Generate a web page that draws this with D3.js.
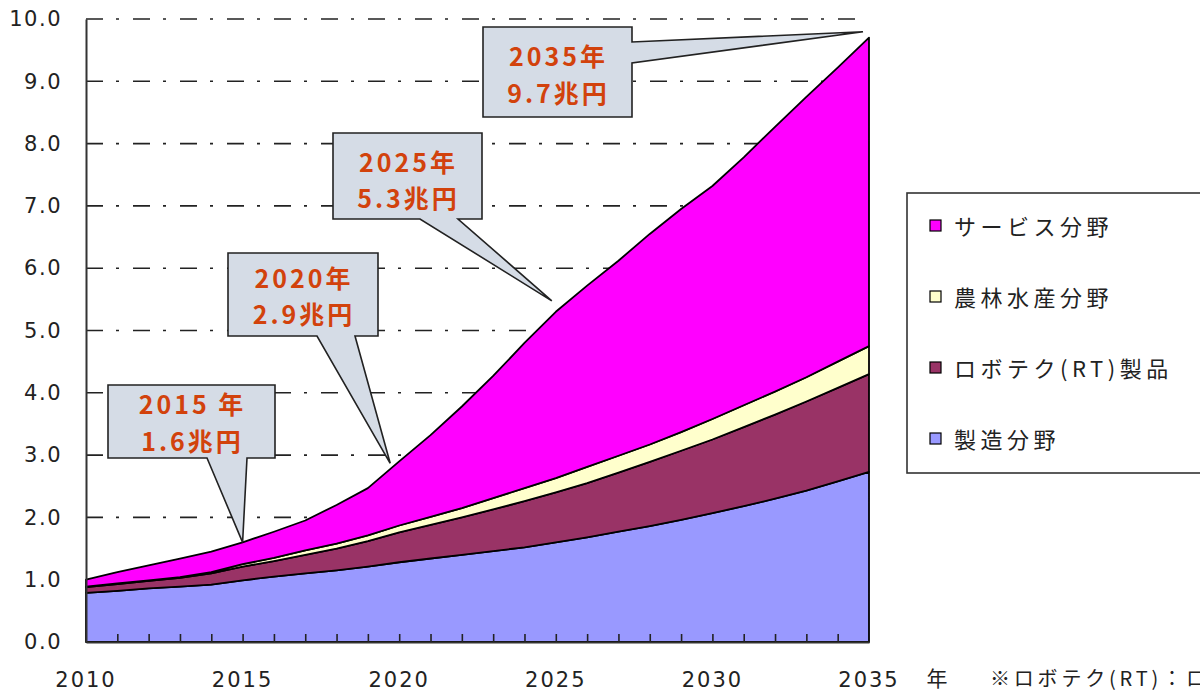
<!DOCTYPE html>
<html lang="ja">
<head>
<meta charset="utf-8">
<title>ロボット産業の市場規模予測</title>
<script src="https://cdn.jsdelivr.net/npm/d3@7"></script>
<style>
  html, body { margin: 0; padding: 0; background: #fff; overflow: hidden; }
  svg { display: block; }
</style>
</head>
<body>
<svg id="chart" width="1200" height="692"></svg>
<script>
// Market size forecast (兆円) by sector, 2010–2035
const years = d3.range(2010, 2036);
const manufacturing = [0.79, 0.82, 0.86, 0.89, 0.92, 0.99, 1.05, 1.10, 1.15, 1.21, 1.28, 1.34, 1.40,
                       1.46, 1.52, 1.60, 1.68, 1.77, 1.86, 1.96, 2.07, 2.18, 2.30, 2.43, 2.58, 2.73];
const rtProducts    = [0.09, 0.11, 0.12, 0.14, 0.18, 0.22, 0.25, 0.30, 0.35, 0.41, 0.48, 0.54, 0.60,
                       0.67, 0.74, 0.80, 0.87, 0.95, 1.03, 1.11, 1.18, 1.27, 1.35, 1.43, 1.50, 1.57];
const agriculture   = [0.01, 0.01, 0.01, 0.01, 0.02, 0.04, 0.05, 0.07, 0.08, 0.09, 0.11, 0.13, 0.15,
                       0.18, 0.21, 0.23, 0.26, 0.27, 0.28, 0.30, 0.33, 0.35, 0.37, 0.39, 0.42, 0.45];
const services      = [0.11, 0.18, 0.24, 0.30, 0.33, 0.35, 0.42, 0.48, 0.62, 0.76, 1.03, 1.31, 1.63,
                       1.96, 2.33, 2.67, 2.91, 3.13, 3.38, 3.58, 3.74, 3.98, 4.25, 4.50, 4.72, 4.95];

const seriesNames  = ["製造分野", "ロボテク(RT)製品", "農林水産分野", "サービス分野"];
const seriesColors = ["#9999FF", "#993366", "#FFFFCC", "#FF00FF"];
const yTicks = d3.range(0, 11);
const xLabelYears = [2010, 2015, 2020, 2025, 2030, 2035];

// Callouts: year and the two caption lines
const calloutYears  = [2015, 2020, 2025, 2035];
const calloutTitles = ["2015 年", "2020年", "2025年", "2035年"];
const calloutValues = ["1.6兆円", "2.9兆円", "5.3兆円", "9.7兆円"];

const rows = years.map((yr, i) => ({
  year: yr,
  [seriesNames[0]]: manufacturing[i],
  [seriesNames[1]]: rtProducts[i],
  [seriesNames[2]]: agriculture[i],
  [seriesNames[3]]: services[i]
}));

const svg = d3.select("#chart");
const plotLeft = 86, plotRight = 869, plotTop = 19, plotBottom = 642;

const x = d3.scaleLinear().domain([2010, 2035]).range([plotLeft, plotRight]);
const y = d3.scaleLinear().domain([0, 10]).range([plotBottom, plotTop]);

const numFont = "'DejaVu Sans', 'Liberation Sans', sans-serif";
const jpFont = "'Noto Sans CJK JP', 'Noto Sans', sans-serif";

// Horizontal grid (dash-dot)
svg.append("g")
  .selectAll("line")
  .data(yTicks.filter(d => d > 0))
  .join("line")
  .attr("x1", plotLeft).attr("x2", 866)
  .attr("y1", d => y(d)).attr("y2", d => y(d))
  .attr("stroke", "#222")
  .attr("stroke-width", 1.6)
  .attr("stroke-dasharray", "17,13,3,14");

// Stacked areas
const stack = d3.stack().keys(seriesNames);
const layers = stack(rows);
const area = d3.area()
  .x(d => x(d.data.year))
  .y0(d => y(d[0]))
  .y1(d => y(d[1]));

svg.append("g")
  .selectAll("path")
  .data(layers)
  .join("path")
  .attr("d", area)
  .attr("fill", (d, i) => seriesColors[i])
  .attr("stroke", "#000")
  .attr("stroke-width", 1.8)
  .attr("stroke-linejoin", "round");

// Axes
const yAxis = d3.axisLeft(y).tickValues(yTicks).tickSize(0).tickPadding(24)
  .tickFormat(d3.format(".1f"));
const gy = svg.append("g").attr("transform", `translate(${plotLeft},0)`).call(yAxis);
gy.select(".domain").attr("stroke", "#333").attr("stroke-width", 2);
gy.selectAll("text")
  .attr("font-family", numFont).attr("font-size", 21)
  .attr("letter-spacing", 1.5).attr("fill", "#222");

const xAxis = d3.axisBottom(x).tickValues(years.slice(1, -1)).tickSizeInner(-8).tickSizeOuter(0)
  .tickFormat("");
const gx = svg.append("g").attr("transform", `translate(0,${plotBottom})`).call(xAxis);
gx.select(".domain").attr("stroke", "#333").attr("stroke-width", 2);
gx.selectAll(".tick line").attr("stroke", "#222").attr("stroke-width", 1.6);

svg.append("g")
  .selectAll("text")
  .data(xLabelYears)
  .join("text")
  .attr("x", d => x(d))
  .attr("y", 687)
  .attr("text-anchor", "middle")
  .attr("font-family", numFont).attr("font-size", 21)
  .attr("letter-spacing", 2).attr("fill", "#222")
  .text(d => d);

svg.append("text")
  .attr("x", 937).attr("y", 686).attr("text-anchor", "middle")
  .attr("font-family", jpFont).attr("font-size", 21).attr("fill", "#222")
  .text("年");

svg.append("text")
  .attr("x", 990).attr("y", 686)
  .attr("font-family", jpFont).attr("font-size", 20).attr("letter-spacing", 3.8).attr("fill", "#222")
  .text("※ロボテク(RT)：ロボットテクノロジー");

// Callout balloons
const totals = years.map((yr, i) => manufacturing[i] + rtProducts[i] + agriculture[i] + services[i]);
const boxes = [
  { x0: 108, y0: 385, x1: 275, y1: 458, side: "bottom", b0: 207, b1: 247, dx: 0,  dy: 0,   l1: 414, l2: 451 },
  { x0: 228, y0: 253, x1: 378, y1: 336, side: "bottom", b0: 317, b1: 355, dx: -9, dy: 2,   l1: 288, l2: 324 },
  { x0: 333, y0: 133, x1: 482, y1: 219, side: "bottom", b0: 420, b1: 458, dx: -4, dy: -11, l1: 172, l2: 208 },
  { x0: 483, y0: 27,  x1: 632, y1: 117, side: "right",  b0: 42,  b1: 63,  dx: -6, dy: -6,  l1: 66,  l2: 103 }
];

const callouts = svg.append("g");
calloutYears.forEach((yr, i) => {
  const b = boxes[i];
  const tx = x(yr) + b.dx;
  const ty = y(totals[years.indexOf(yr)]) + b.dy;
  let p;
  if (b.side === "bottom") {
    p = `M${b.x0},${b.y0}H${b.x1}V${b.y1}H${b.b1}L${tx},${ty}L${b.b0},${b.y1}H${b.x0}Z`;
  } else {
    p = `M${b.x0},${b.y0}H${b.x1}V${b.b0}L${tx},${ty}L${b.x1},${b.b1}V${b.y1}H${b.x0}Z`;
  }
  callouts.append("path")
    .attr("d", p)
    .attr("fill", "#D5DCE6")
    .attr("stroke", "#222")
    .attr("stroke-width", 1.6)
    .attr("stroke-linejoin", "miter");
  const cx = (b.x0 + b.x1) / 2;
  [[calloutTitles[i], b.l1], [calloutValues[i], b.l2]].forEach(([t, ly]) => {
    callouts.append("text")
      .attr("x", cx + 1)
      .attr("y", ly)
      .attr("text-anchor", "middle")
      .attr("font-family", jpFont)
      .attr("font-size", 25)
      .attr("font-weight", 700)
      .attr("letter-spacing", 3)
      .attr("fill", "#D2420C")
      .text(t);
  });
});

// Legend (top series first)
const legend = svg.append("g");
legend.append("rect")
  .attr("x", 907).attr("y", 193).attr("width", 320).attr("height", 280)
  .attr("fill", "#fff").attr("stroke", "#333").attr("stroke-width", 1.6);

const legendOrder = [3, 2, 1, 0];
legendOrder.forEach((si, k) => {
  const cy = 226 + k * 71;
  legend.append("rect")
    .attr("x", 930).attr("y", cy - 6).attr("width", 11).attr("height", 11)
    .attr("fill", seriesColors[si]).attr("stroke", "#000").attr("stroke-width", 1.2);
  legend.append("text")
    .attr("x", 954).attr("y", cy + 9)
    .attr("font-family", jpFont).attr("font-size", 22)
    .attr("letter-spacing", 4.5).attr("fill", "#222")
    .text(seriesNames[si]);
});
</script>
</body>
</html>
